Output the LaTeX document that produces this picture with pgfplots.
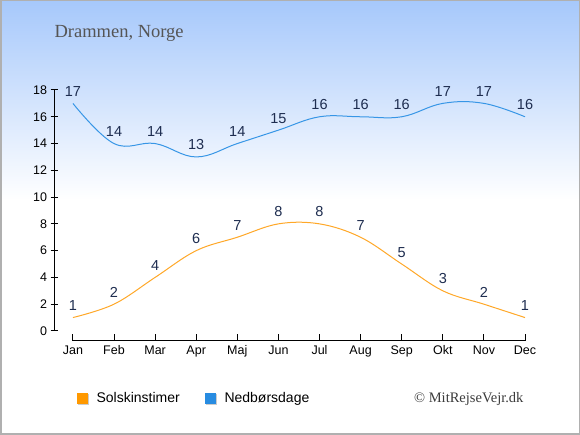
\documentclass[border=0pt]{standalone}
\usepackage{pgfplots}
\pgfplotsset{compat=1.18}
\usepackage{fontspec}
\setmainfont{Liberation Sans}
\newfontfamily\seriffont{Liberation Serif}
\definecolor{topblue}{RGB}{166,200,251}
\definecolor{orangeline}{RGB}{255,168,40}
\definecolor{blueline}{RGB}{55,150,230}
\definecolor{orangesq}{RGB}{255,153,0}
\definecolor{bluesq}{RGB}{40,140,225}
\definecolor{lbl}{RGB}{30,45,80}
\definecolor{titlegray}{RGB}{85,85,85}
\begin{document}
\begin{tikzpicture}[x=1pt,y=1pt]
\fill[white] (0,0) rectangle (580,435);
\shade[top color=topblue,bottom color=white] (0,235) rectangle (580,435);
\draw[color={rgb,255:red,176;green,176;blue,176},line width=1.5pt] (0.75,0.75) rectangle (579.25,434.25);
\node[anchor=base west,text=titlegray,font=\seriffont\fontsize{18.5}{20}\selectfont] at (51,397) {Drammen, Norge};
\begin{axis}[
  at={(54pt,94pt)}, anchor=south west,
  scale only axis, width=471pt, height=251pt,
  xmin=-0.46, xmax=11, ymin=-0.75, ymax=18,
  axis x line=bottom, axis y line=left,
  x axis line style={draw=none,-}, y axis line style={draw=none,-},
  xtick={0,...,11},
  xticklabels={Jan,Feb,Mar,Apr,Maj,Jun,Jul,Aug,Sep,Okt,Nov,Dec},
  ytick={0,2,...,18},
  x tick label style={font=\fontsize{12.5}{14}\selectfont, yshift=-1pt},
  y tick label style={font=\fontsize{12.5}{14}\selectfont},
  /pgf/number format/assume math mode=true,
  xtick align=inside, ytick align=center,
  major tick length=7pt,
  tick style={black, line width=1pt},
  clip=false,
  nodes near coords,
  every node near coord/.append style={text=lbl, font=\fontsize{14.5}{16}\selectfont, anchor=south, yshift=3pt},
]
\draw[black, line width=1pt] (axis cs:-0.46,0) -- (axis cs:-0.46,18);
\draw[black, line width=1pt] (axis cs:0,-0.75) -- (axis cs:11,-0.75);
\addplot[orangeline, line width=1pt, smooth, tension=0.6, mark=none] coordinates {
(0,1) (1,2) (2,4) (3,6) (4,7) (5,8) (6,8) (7,7) (8,5) (9,3) (10,2) (11,1)};
\addplot[blueline, line width=1pt, smooth, tension=0.65, mark=none] coordinates {
(0,17) (1,14) (2,14) (3,13) (4,14) (5,15) (6,16) (7,16) (8,16) (9,17) (10,17) (11,16)};
\end{axis}
\fill[black!20] (78,30) rectangle (89,41);
\fill[orangesq] (77,31) rectangle (88,42);
\node[anchor=base west,font=\fontsize{14}{16}\selectfont] at (93,32) {Solskinstimer};
\fill[black!20] (206,30) rectangle (217,41);
\fill[bluesq] (205,31) rectangle (216,42);
\node[anchor=base west,font=\fontsize{14}{16}\selectfont] at (221,32) {Nedbørsdage};
\node[anchor=base east,text=titlegray!70!black,font=\seriffont\fontsize{14.5}{16}\selectfont] at (527,32) {© MitRejseVejr.dk};
\end{tikzpicture}
\end{document}
